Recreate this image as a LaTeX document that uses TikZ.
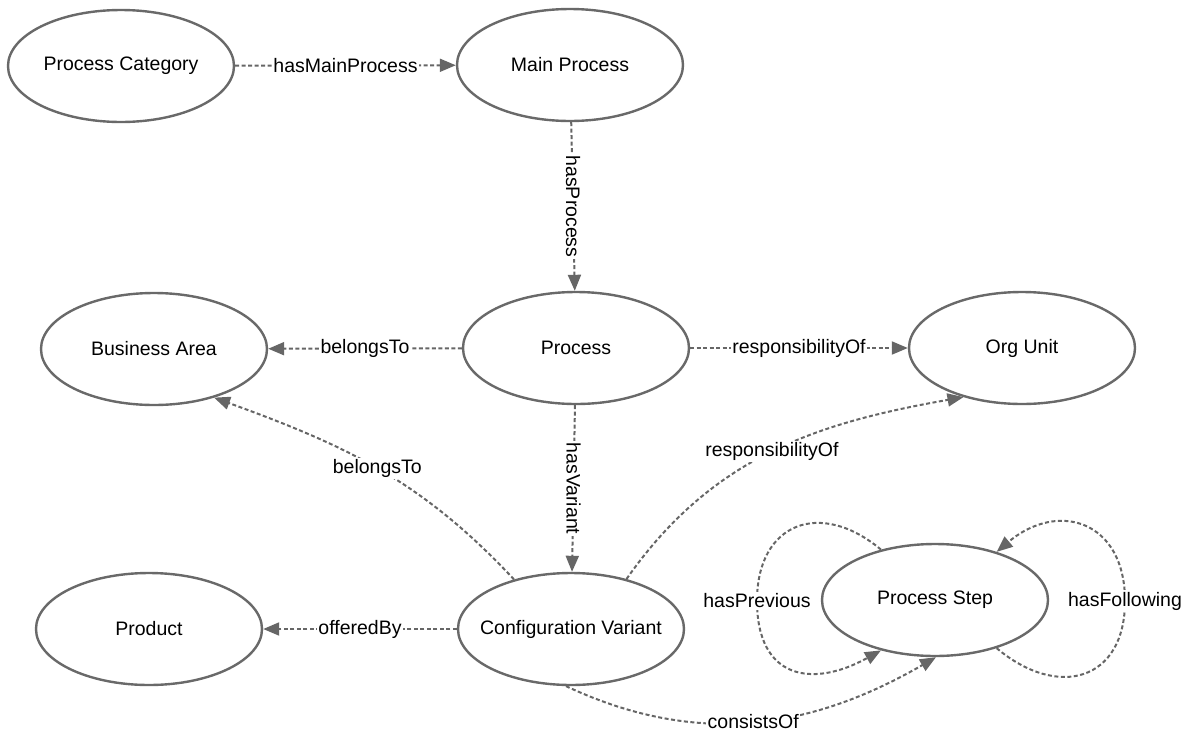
\documentclass[tikz,border=0pt]{standalone}
\usepackage{fontspec}
\setmainfont{Liberation Sans}
\usetikzlibrary{shapes.geometric,arrows.meta}
\definecolor{edgegray}{RGB}{102,102,102}
\definecolor{rimgray}{RGB}{105,105,105}
\begin{document}
\begin{tikzpicture}[x=1pt,y=1pt,
  concept/.style={ellipse,draw=rimgray,line width=2.4pt,fill=white,
    minimum width=226pt,minimum height=112pt,inner sep=0pt,
    font=\fontsize{19.5}{23}\selectfont},
  rel/.style={draw=edgegray,line width=2pt,dash pattern=on 4pt off 2.5pt,
    -{Triangle[length=16pt,width=13pt]}},
  tag/.style={fill=white,inner sep=1.5pt,font=\fontsize{19.5}{23}\selectfont,text=black}
]
\useasboundingbox (0,0) rectangle (1187,-737);

% concepts
\node[concept] (pc)   at (121,-66)  {\makebox[0pt]{Process Category}};
\node[concept] (mp)   at (570,-65)  {\makebox[0pt]{Main Process}};
\node[concept] (ba)   at (154,-349) {\makebox[0pt]{Business Area}};
\node[concept] (proc) at (576,-348) {\makebox[0pt]{Process}};
\node[concept] (ou)   at (1022,-348){\makebox[0pt]{Org Unit}};
\node[concept] (prod) at (149,-629) {\makebox[0pt]{Product}};
\node[concept] (cv)   at (571,-629) {\makebox[0pt]{Configuration Variant}};
\node[concept] (ps)   at (935,-600) {\makebox[0pt]{Process Step}};

% straight relations
\draw[rel] (pc) -- node[tag]{hasMainProcess} (mp);
\draw[rel] (mp) -- node[tag,rotate=-90]{hasProcess} (proc);
\draw[rel] (proc) -- node[tag]{belongsTo} (ba);
\draw[rel] (proc) -- node[tag]{responsibilityOf} (ou);
\draw[rel] (proc) -- node[tag,rotate=-90]{hasVariant} (cv);
\draw[rel] (cv) -- node[tag]{offeredBy} (prod);

% curved relations
\draw[rel] (cv.139) to[out=133,in=-20] node[tag]{belongsTo} (ba.-39);
\draw[rel] (cv.42) to[out=55,in=190] node[tag]{responsibilityOf} (ou.-140);
\draw[rel] (cv.-95) to[out=-25,in=210] node[tag]{consistsOf} (ps.-89);

% self loops on the process step
\coordinate (prevmid) at (757,-601);
\coordinate (follmid) at (1125,-601);
\draw[rel] (ps.137) to[out=140,in=90,looseness=1.5] (prevmid)
  to[out=-90,in=209,looseness=1.5] (ps.-137);
\node[tag] (prevtag) at (prevmid) {hasPrevious};
\draw[rel] (ps.-38) to[out=-40,in=-90,looseness=1.5] (follmid)
  to[out=90,in=40,looseness=1.5] (ps.38);
\node[tag] (folltag) at (follmid) {hasFollowing};
\end{tikzpicture}
\end{document}
